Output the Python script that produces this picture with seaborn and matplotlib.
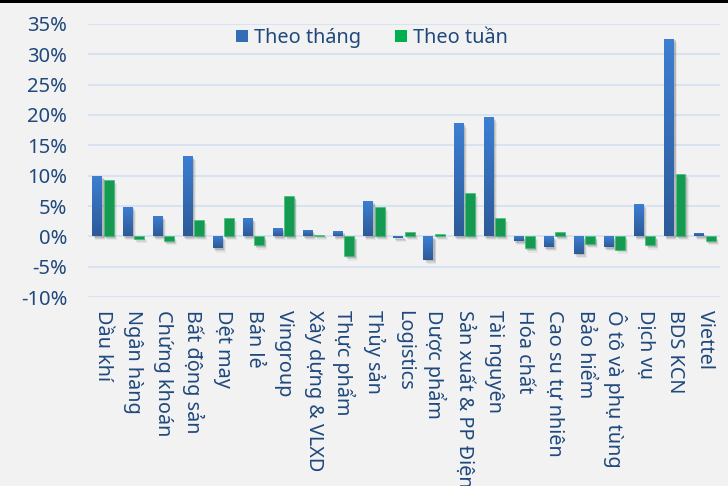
import numpy as np
import pandas as pd
import matplotlib
matplotlib.use("Agg")
import matplotlib.pyplot as plt
import matplotlib.patheffects as pe
from matplotlib.colors import LinearSegmentedColormap
from matplotlib.patches import Patch, Rectangle
import seaborn as sns

# Sector performance, % change
categories = ["Dầu khí", "Ngân hàng", "Chứng khoán", "Bất động sản", "Dệt may",
              "Bán lẻ", "Vingroup", "Xây dựng & VLXD", "Thực phẩm", "Thủy sản",
              "Logistics", "Dược phẩm", "Sản xuất & PP Điện", "Tài nguyên",
              "Hóa chất", "Cao su tự nhiên", "Bảo hiểm", "Ô tô và phụ tùng",
              "Dịch vụ", "BDS KCN", "Viettel"]
theo_thang = [9.9, 4.9, 3.3, 13.2, -2.0, 3.0, 1.3, 1.0, 0.8, 5.8, -0.3,
              -3.9, 18.6, 19.6, -0.8, -1.8, -2.9, -1.8, 5.3, 32.6, 0.5]
theo_tuan = [9.3, -0.4, -0.8, 2.7, 3.0, -1.5, 6.6, 0.3, -3.3, 4.8, 0.7,
             0.4, 7.1, 3.0, -2.0, 0.7, -1.3, -2.2, -1.5, 10.3, -0.8]
series_names = ["Theo tháng", "Theo tuần"]
y_ticks = [-10, -5, 0, 5, 10, 15, 20, 25, 30, 35]

TEXT = "#1F497D"
BLUE_TOP = "#3d7fd3"
BLUE_BOTTOM = "#2d5a97"
BLUE_MID = "#356cb6"
GREEN = "#00b050"
GRID = "#d6e2f3"
BG = "#f2f2f2"

df = pd.DataFrame({
    "Ngành": categories * 2,
    "Giá trị": theo_thang + theo_tuan,
    "Kỳ": [series_names[0]] * len(categories) + [series_names[1]] * len(categories),
})

sns.set_theme(style="white")
plt.rcParams["font.family"] = ["Noto Sans", "DejaVu Sans"]

fig = plt.figure(figsize=(7.28, 4.86), dpi=100, facecolor=BG)
ax = fig.add_axes([88 / 728, 1 - 297 / 486, 632 / 728, 273 / 486])
ax.set_facecolor(BG)

sns.barplot(data=df, x="Ngành", y="Giá trị", hue="Kỳ", order=categories,
            hue_order=series_names, palette=[BLUE_MID, GREEN],
            width=0.75, gap=0.12, ax=ax, legend=False, zorder=3,
            linewidth=0)

# soft drop shadow under every bar
shadow = [
    pe.SimplePatchShadow(offset=(1.0, -1.0), shadow_rgbFace="#000000", alpha=0.12),
    pe.SimplePatchShadow(offset=(1.6, -2.0), shadow_rgbFace="#000000", alpha=0.09),
    pe.SimplePatchShadow(offset=(2.2, -3.0), shadow_rgbFace="#000000", alpha=0.05),
    pe.Normal(),
]

grad = LinearSegmentedColormap.from_list("bluegrad", [BLUE_BOTTOM, BLUE_TOP])
gradient = np.linspace(0, 1, 256).reshape(-1, 1)

n = len(categories)
bars = [p for p in ax.patches if isinstance(p, Rectangle)]
for i, bar in enumerate(bars[: 2 * n]):
    bar.set_path_effects(shadow)
    if i < n:
        x0 = bar.get_x()
        w = bar.get_width()
        y0 = min(bar.get_y(), bar.get_y() + bar.get_height())
        y1 = max(bar.get_y(), bar.get_y() + bar.get_height())
        im = ax.imshow(gradient, cmap=grad, aspect="auto", origin="lower",
                       extent=(x0, x0 + w, y0, y1), zorder=4,
                       interpolation="bilinear")
        im.set_clip_path(bar)
    else:
        bar.set_edgecolor("#3cc276")
        bar.set_linewidth(0.5)

ax.set_xlim(-0.5, n - 0.5)
ax.set_ylim(-10, 35)
ax.set_yticks(y_ticks)
ax.set_yticklabels([f"{v}%" for v in y_ticks])
ax.yaxis.grid(True, color=GRID, linewidth=1.3, zorder=0)
ax.xaxis.grid(False)
ax.set_axisbelow(True)
for s in ax.spines.values():
    s.set_visible(False)

ax.set_xlabel("")
ax.set_ylabel("")
ax.tick_params(axis="y", length=0, pad=15, labelsize=14.5, labelcolor=TEXT)
ax.tick_params(axis="x", length=0, pad=9, labelsize=14.3, labelcolor=TEXT)
for lbl in ax.get_xticklabels():
    lbl.set_rotation(270)
    lbl.set_ha("center")
    lbl.set_va("top")
    lbl.set_rotation_mode("default")

handles = [Patch(facecolor=BLUE_MID, edgecolor="none"),
           Patch(facecolor=GREEN, edgecolor="none")]
leg = ax.legend(handles, series_names, loc="center", ncol=2,
                bbox_to_anchor=(0.449, (297 - 38) / 273), bbox_transform=ax.transAxes,
                frameon=False, fontsize=14.3, handlelength=0.6, handleheight=0.6,
                handletextpad=0.3, columnspacing=1.7, borderaxespad=0)
for t in leg.get_texts():
    t.set_color(TEXT)

# dark rule along the top edge
fig.patches.append(Rectangle((0, 1 - 3.5 / 486), 1, 3.5 / 486, transform=fig.transFigure,
                             facecolor="black", edgecolor="none", zorder=10))

fig.savefig("out.png", dpi=100, facecolor=BG)
